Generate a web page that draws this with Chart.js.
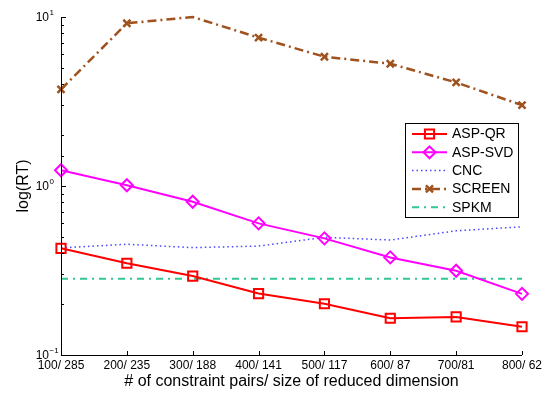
<!DOCTYPE html>
<html>
<head>
<meta charset="utf-8">
<script src="https://cdn.jsdelivr.net/npm/chart.js@4.4.0/dist/chart.umd.min.js"></script>
<style>
  html, body { margin: 0; padding: 0; background: #fff; }
  #wrap { width: 545px; height: 394px; }
</style>
</head>
<body>
<div id="wrap"><canvas id="chart"></canvas></div>
<script>
// ===== Data =====
const categories = ['100/ 285', '200/ 235', '300/ 188', '400/ 141', '500/ 117', '600/ 87', '700/81', '800/ 62'];
const aspQR     = [0.428, 0.349, 0.293, 0.231, 0.201, 0.165, 0.168, 0.147];
const aspSVD    = [1.24, 1.01, 0.807, 0.601, 0.490, 0.378, 0.315, 0.230];
const cnc       = [0.430, 0.452, 0.432, 0.441, 0.497, 0.479, 0.543, 0.574];
const screenRT  = [3.73, 9.18, 10.0, 7.55, 5.82, 5.29, 4.10, 3.01];
const spkm      = [0.283, 0.283, 0.283, 0.283, 0.283, 0.283, 0.283, 0.283];
const yMajor    = [0.1, 1, 10];
const yExpLabels = ['\u22121', '0', '1'];
const seriesNames = ['ASP-QR', 'ASP-SVD', 'CNC', 'SCREEN', 'SPKM'];

const FONT = '"Liberation Sans", Arial, Helvetica, sans-serif';

// ===== Axes, ticks, labels and legend drawn on top =====
const decorPlugin = {
  id: 'decor',
  afterDraw(chart) {
    const ctx = chart.ctx;
    const xs = chart.scales.x, ys = chart.scales.y;
    const area = chart.chartArea;
    ctx.save();
    ctx.strokeStyle = '#000';
    ctx.lineWidth = 1;

    // axis lines (left + bottom only)
    ctx.beginPath();
    ctx.moveTo(area.left + 0.5, area.top);
    ctx.lineTo(area.left + 0.5, area.bottom + 0.5);
    ctx.lineTo(area.right, area.bottom + 0.5);
    ctx.stroke();

    // y ticks, major and minor, pointing inward
    ys.ticks.forEach(t => {
      const y = Math.round(ys.getPixelForValue(t.value)) + 0.5;
      const major = yMajor.some(v => Math.abs(v - t.value) < 1e-9);
      ctx.beginPath();
      ctx.moveTo(area.left, y);
      ctx.lineTo(area.left + (major ? 5 : 3), y);
      ctx.stroke();
    });

    // x ticks pointing inward
    categories.forEach((c, i) => {
      const x = Math.round(xs.getPixelForTick(i)) + 0.5;
      ctx.beginPath();
      ctx.moveTo(x, area.bottom);
      ctx.lineTo(x, area.bottom - 4);
      ctx.stroke();
    });

    ctx.fillStyle = '#000';
    // x tick labels
    ctx.font = '12px ' + FONT;
    ctx.textAlign = 'center';
    ctx.textBaseline = 'middle';
    categories.forEach((c, i) => {
      ctx.fillText(c, xs.getPixelForTick(i), 366);
    });

    // y tick labels 10^k
    yMajor.forEach((v, i) => {
      const y = ys.getPixelForValue(v);
      ctx.font = '12px ' + FONT;
      ctx.textAlign = 'right';
      ctx.textBaseline = 'middle';
      ctx.fillText('10', 49, y + 1);
      ctx.font = '8px ' + FONT;
      ctx.textAlign = 'left';
      ctx.fillText(yExpLabels[i], 49.5, y - 4);
    });

    // axis titles
    ctx.font = '16px ' + FONT;
    ctx.textAlign = 'center';
    ctx.textBaseline = 'middle';
    ctx.fillText('# of constraint pairs/ size of reduced dimension', (area.left + area.right) / 2, 382);
    ctx.save();
    ctx.translate(24, (area.top + area.bottom) / 2);
    ctx.rotate(-Math.PI / 2);
    ctx.fillText('log(RT)', 0, 0);
    ctx.restore();

    // legend box
    const lx = 405, ly = 123, lw = 113, lh = 94;
    ctx.fillStyle = '#fff';
    ctx.fillRect(lx, ly, lw, lh);
    ctx.strokeStyle = '#000';
    ctx.lineWidth = 1;
    ctx.strokeRect(lx + 0.5, ly + 0.5, lw, lh);
    chart.data.datasets.forEach((ds, i) => {
      const y = 134 + i * 18.3;
      ctx.save();
      ctx.strokeStyle = ds.borderColor;
      ctx.lineWidth = ds.borderWidth;
      ctx.setLineDash(ds.borderDash || []);
      ctx.beginPath();
      ctx.moveTo(412, y);
      ctx.lineTo(447, y);
      ctx.stroke();
      ctx.setLineDash([]);
      if (ds.legendMarker) {
        ctx.fillStyle = 'rgba(0,0,0,0)';
        ctx.lineWidth = ds.pointBorderWidth;
        Chart.helpers.drawPoint(ctx, {
          pointStyle: ds.pointStyle,
          radius: ds.legendMarker,
          borderWidth: ds.pointBorderWidth,
          rotation: 0
        }, 429.5, y);
      }
      ctx.restore();
      ctx.fillStyle = '#000';
      ctx.font = '14px ' + FONT;
      ctx.textAlign = 'left';
      ctx.textBaseline = 'middle';
      ctx.fillText(seriesNames[i], 452, y + 0.5);
    });
    ctx.restore();
  }
};

new Chart(document.getElementById('chart').getContext('2d'), {
  type: 'line',
  data: {
    labels: categories,
    datasets: [
      { label: seriesNames[0], data: aspQR, borderColor: '#ff0000', borderWidth: 2,
        pointStyle: 'rect', pointRadius: 6.5, pointBorderWidth: 2, pointBorderColor: '#ff0000',
        pointBackgroundColor: 'rgba(0,0,0,0)', legendMarker: 6.5 },
      { label: seriesNames[1], data: aspSVD, borderColor: '#ff00ff', borderWidth: 2,
        pointStyle: 'rectRot', pointRadius: 6, pointBorderWidth: 2, pointBorderColor: '#ff00ff',
        pointBackgroundColor: 'rgba(0,0,0,0)', legendMarker: 6 },
      { label: seriesNames[2], data: cnc, borderColor: '#4646ff', borderWidth: 1.5,
        borderDash: [1.5, 3], pointRadius: 0 },
      { label: seriesNames[3], data: screenRT, borderColor: '#a0521e', borderWidth: 2.5,
        borderDash: [9, 4, 2, 4], pointStyle: 'crossRot',
        pointRadius: [5, 5, 0, 5, 5, 5, 5, 5], pointBorderWidth: 2.5,
        pointBorderColor: '#a0521e', legendMarker: 5 },
      { label: seriesNames[4], data: spkm, borderColor: '#30c890', borderWidth: 2,
        borderDash: [7, 5, 2, 5], pointRadius: 0 }
    ]
  },
  options: {
    responsive: true,
    maintainAspectRatio: false,
    animation: false,
    events: [],
    layout: { padding: { left: 61, right: 23, top: 17, bottom: 39 } },
    elements: { line: { tension: 0, fill: false } },
    datasets: { line: { clip: false } },
    plugins: { legend: { display: false }, tooltip: { enabled: false } },
    scales: {
      x: {
        type: 'category',
        offset: false,
        grid: { display: false },
        border: { display: false },
        ticks: { display: false },
        afterFit: s => { s.height = 0; }
      },
      y: {
        type: 'logarithmic',
        min: 0.1,
        max: 10,
        grid: { display: false },
        border: { display: false },
        ticks: { display: false },
        afterFit: s => { s.width = 0; }
      }
    }
  },
  plugins: [decorPlugin]
});
</script>
</body>
</html>
